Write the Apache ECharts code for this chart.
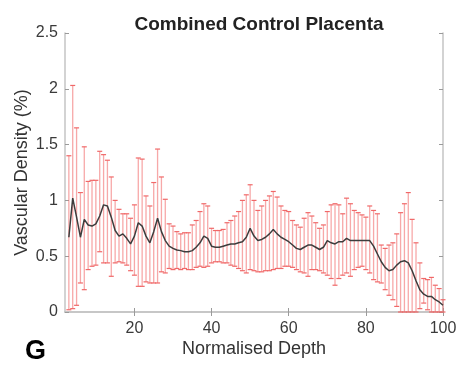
<!DOCTYPE html>
<html>
<head>
<meta charset="utf-8">
<script src="https://cdn.jsdelivr.net/npm/echarts@6/dist/echarts.min.js"></script>
<style>
  html, body { margin: 0; padding: 0; background: #fff; }
  #chart { width: 461px; height: 373px; }
</style>
</head>
<body>
<div id="chart"></div>
<script>
// normalised depth positions (one bar per step)
const depth = [
  3, 4, 5, 6, 7, 8, 9, 10, 11, 12,
  13, 14, 15, 16, 17, 18, 19, 20, 21, 22,
  23, 24, 25, 26, 27, 28, 29, 30, 31, 32,
  33, 34, 35, 36, 37, 38, 39, 40, 41, 42,
  43, 44, 45, 46, 47, 48, 49, 50, 51, 52,
  53, 54, 55, 56, 57, 58, 59, 60, 61, 62,
  63, 64, 65, 66, 67, 68, 69, 70, 71, 72,
  73, 74, 75, 76, 77, 78, 79, 80, 81, 82,
  83, 84, 85, 86, 87, 88, 89, 90, 91, 92,
  93, 94, 95, 96, 97, 98, 99, 100
];

// mean vascular density (%)
const meanDensity = [
  0.67, 1.02, 0.85, 0.67, 0.83, 0.78, 0.77, 0.79, 0.86, 0.96,
  0.95, 0.85, 0.73, 0.68, 0.70, 0.66, 0.61, 0.68, 0.80, 0.77,
  0.68, 0.62, 0.72, 0.84, 0.72, 0.64, 0.59, 0.57, 0.555, 0.55,
  0.54, 0.54, 0.55, 0.58, 0.62, 0.68, 0.66, 0.59, 0.58, 0.58,
  0.59, 0.60, 0.61, 0.61, 0.62, 0.63, 0.67, 0.75, 0.68, 0.64,
  0.65, 0.67, 0.70, 0.74, 0.70, 0.67, 0.65, 0.63, 0.60, 0.57,
  0.56, 0.58, 0.60, 0.60, 0.58, 0.56, 0.58, 0.64, 0.62, 0.61,
  0.63, 0.63, 0.66, 0.64, 0.64, 0.64, 0.64, 0.64, 0.64, 0.59,
  0.52, 0.45, 0.40, 0.37, 0.38, 0.42, 0.45, 0.46, 0.44, 0.37,
  0.28, 0.20, 0.16, 0.14, 0.14, 0.11, 0.09, 0.06
];

// top of each error bar
const upperDensity = [
  1.40, 2.03, 1.65, 1.07, 1.48, 1.17, 1.18, 1.18, 1.44, 1.41,
  1.36, 1.21, 1.00, 0.92, 0.88, 0.88, 0.84, 0.96, 1.38, 1.37,
  1.04, 0.95, 1.16, 1.46, 1.21, 1.01, 0.79, 0.77, 0.72, 0.70,
  0.71, 0.71, 0.78, 0.82, 0.90, 0.97, 0.95, 0.75, 0.73, 0.73,
  0.74, 0.80, 0.82, 0.86, 0.90, 1.00, 1.05, 1.14, 1.00, 0.91,
  0.95, 1.00, 1.04, 1.08, 1.03, 0.95, 0.91, 0.90, 0.82, 0.78,
  0.76, 0.84, 0.89, 0.86, 0.80, 0.75, 0.78, 0.90, 0.96, 0.97,
  0.96, 0.88, 1.02, 0.97, 0.91, 0.89, 0.87, 0.85, 0.95, 0.91,
  0.88, 0.60, 0.57, 0.60, 0.62, 0.70, 0.89, 0.97, 1.07, 0.83,
  0.62, 0.44, 0.30, 0.29, 0.31, 0.24, 0.21, 0.11
];

// bottom of each error bar
const lowerDensity = [
  0.02, 0.03, 0.06, 0.26, 0.20, 0.38, 0.41, 0.42, 0.54, 0.44,
  0.44, 0.32, 0.44, 0.45, 0.44, 0.42, 0.37, 0.33, 0.23, 0.23,
  0.27, 0.26, 0.26, 0.26, 0.36, 0.35, 0.39, 0.38, 0.39, 0.38,
  0.39, 0.38, 0.38, 0.40, 0.41, 0.40, 0.41, 0.44, 0.45, 0.45,
  0.44, 0.44, 0.42, 0.41, 0.39, 0.37, 0.35, 0.38, 0.37, 0.36,
  0.36, 0.37, 0.37, 0.38, 0.39, 0.39, 0.41, 0.41, 0.40, 0.38,
  0.36, 0.35, 0.32, 0.38, 0.38, 0.37, 0.35, 0.33, 0.30, 0.24,
  0.30, 0.33, 0.35, 0.32, 0.38, 0.40, 0.41, 0.38, 0.35, 0.29,
  0.27, 0.26, 0.20, 0.15, 0.11, 0.05, 0, 0, 0, 0,
  0, 0.03, 0.08, 0.02, 0, 0, 0, 0
];

const xTicks = [20, 40, 60, 80, 100];

const FONT = '"Liberation Sans", Arial, Helvetica, sans-serif';
const AXIS_GRAY = '#c4c4c4';
const BAR_PINK = 'rgba(242, 110, 110, 0.6)';
const CAP_RED = '#f06868';

const chart = echarts.init(document.getElementById('chart'), null, { renderer: 'canvas' });

function renderErrorBar(params, api) {
  const x = api.value(0);
  const lo = api.coord([x, api.value(1)]);
  const hi = api.coord([x, api.value(2)]);
  const half = 2.5;
  const capStyle = { stroke: CAP_RED, lineWidth: 1.2 };
  return {
    type: 'group',
    children: [
      { type: 'line', shape: { x1: hi[0], y1: hi[1], x2: lo[0], y2: lo[1] }, style: { stroke: BAR_PINK, lineWidth: 1.3 } },
      { type: 'line', shape: { x1: hi[0] - half, y1: hi[1], x2: hi[0] + half, y2: hi[1] }, style: capStyle },
      { type: 'line', shape: { x1: lo[0] - half, y1: lo[1], x2: lo[0] + half, y2: lo[1] }, style: capStyle },
    ],
  };
}

const tickStyle = { show: true, inside: true, length: 4, lineStyle: { color: '#9a9a9a' } };
const lineStyle = { show: true, lineStyle: { color: AXIS_GRAY, width: 1.5 } };

const option = {
  animation: false,
  backgroundColor: '#fff',
  textStyle: { fontFamily: FONT },
  title: {
    text: 'Combined Control Placenta',
    left: 254,
    top: 10,
    textAlign: 'center',
    textStyle: { fontFamily: FONT, fontSize: 19, fontWeight: 'bold', color: '#222' },
  },
  graphic: [
    {
      type: 'text',
      left: 25,
      top: 338,
      style: { text: 'G', font: 'bold 27px ' + FONT, fill: '#000' },
    },
  ],
  grid: { left: 65, right: 18, top: 33, bottom: 61 },
  xAxis: [
    {
      type: 'value',
      min: 2,
      max: 100,
      position: 'bottom',
      axisLine: lineStyle,
      axisTick: { ...tickStyle, customValues: xTicks },
      axisLabel: { customValues: xTicks, fontSize: 16, color: '#3a3a3a', margin: 9, fontFamily: FONT },
      splitLine: { show: false },
      name: 'Normalised Depth',
      nameLocation: 'middle',
      nameGap: 28,
      nameMoveOverlap: false,
      nameTextStyle: { fontSize: 18, color: '#333', fontFamily: FONT },
    },
    {
      type: 'value',
      min: 2,
      max: 100,
      position: 'top',
      axisLine: lineStyle,
      axisTick: { ...tickStyle, customValues: xTicks },
      axisLabel: { show: false },
      splitLine: { show: false },
    },
  ],
  yAxis: [
    {
      type: 'value',
      min: 0,
      max: 2.5,
      interval: 0.5,
      position: 'left',
      axisLine: lineStyle,
      axisTick: tickStyle,
      axisLabel: { fontSize: 16, color: '#3a3a3a', margin: 7, fontFamily: FONT },
      splitLine: { show: false },
      name: 'Vascular Density (%)',
      nameLocation: 'middle',
      nameGap: 34,
      nameMoveOverlap: false,
      nameTextStyle: { fontSize: 18, color: '#333', fontFamily: FONT },
    },
    {
      type: 'value',
      min: 0,
      max: 2.5,
      interval: 0.5,
      position: 'right',
      axisLine: lineStyle,
      axisTick: tickStyle,
      axisLabel: { show: false },
      splitLine: { show: false },
    },
  ],
  series: [
    {
      type: 'custom',
      xAxisIndex: 0,
      yAxisIndex: 0,
      renderItem: renderErrorBar,
      encode: { x: 0, y: [1, 2] },
      data: depth.map((d, i) => [d, lowerDensity[i], upperDensity[i]]),
      z: 2,
    },
    {
      type: 'line',
      xAxisIndex: 0,
      yAxisIndex: 0,
      data: depth.map((d, i) => [d, meanDensity[i]]),
      showSymbol: false,
      symbol: 'none',
      lineStyle: { color: '#3d3d3d', width: 1.5 },
      z: 3,
    },
  ],
};

chart.setOption(option);
</script>
</body>
</html>
